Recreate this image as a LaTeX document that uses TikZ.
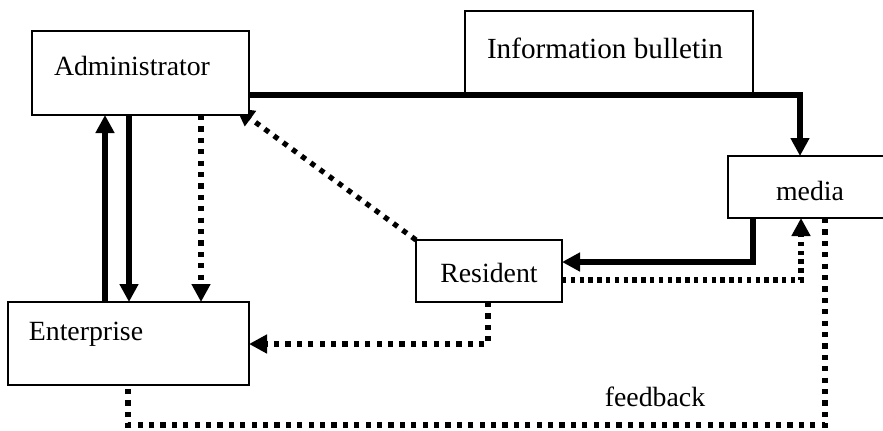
\documentclass[tikz,border=0pt]{standalone}
\usepackage{fontspec}
\setmainfont{Liberation Serif}
\usetikzlibrary{arrows.meta}
\pgfdeclarelayer{background}
\pgfsetlayers{background,main}
\tikzset{
  box/.style={draw, line width=0.85pt, fill=white, inner sep=0pt, outer sep=0pt},
  lbl/.style={inner sep=0pt, font=\fontsize{13.9}{16}\selectfont},
  thickflow/.style={line width=2.7pt, line join=miter},
  dotflow/.style={line width=2.6pt, line cap=butt, dash pattern=on 2.6pt off 3.1pt},
  tip/.style={-{Triangle[length=9pt,width=9pt]}}
}
\begin{document}
\begin{tikzpicture}[x=0.5pt, y=-0.5pt]
\useasboundingbox (0,0) rectangle (883,430);
\clip (0,0) rectangle (883,430);

% boxes
\node[box, minimum width=108.5pt, minimum height=42pt] (admin) at (140.5,73) {};
\node[box, minimum width=144pt, minimum height=41pt] (info) at (609,52) {};
\node[box, minimum width=86pt, minimum height=31pt] (media) at (814,187) {};
\node[box, minimum width=73pt, minimum height=31pt] (resident) at (489,271) {};
\node[box, minimum width=120.5pt, minimum height=41.5pt] (enterprise) at (128.5,343.5) {};

% labels
\node[lbl] (admintext) at (132,66) {Administrator};
\node[lbl, font=\fontsize{14.6}{17}\selectfont] (infotext) at (605,48) {Information bulletin};
\node[lbl] (mediatext) at (810,191) {media};
\node[lbl] (residenttext) at (489,273) {Resident};
\node[lbl] (enterprisetext) at (86,334) {Enterprise};
\node[lbl] (feedbacktext) at (655,397) {feedback};

% helper positions
\coordinate (xup) at (105,0);
\coordinate (xdown) at (129,0);
\coordinate (xdot) at (201,0);
\coordinate (ybus) at (0,95);
\coordinate (xbus) at (800,0);
\coordinate (xm1) at (753,0);
\coordinate (ym1) at (0,262);
\coordinate (ym2) at (0,280);
\coordinate (xm2) at (801,0);
\coordinate (xm3) at (825,0);
\coordinate (yfb) at (0,425);
\coordinate (xfb) at (128,0);
\coordinate (xr) at (488,0);
\coordinate (yr) at (0,344);
\coordinate (diagend) at (236,108);

\begin{pgfonlayer}{background}
% administrator and enterprise
\draw[thickflow, tip] (enterprise.north -| xup) -- (admin.south -| xup);
\draw[thickflow, tip] (admin.south -| xdown) -- (enterprise.north -| xdown);
\draw[dotflow, tip] (admin.south -| xdot) -- (enterprise.north -| xdot);

% administrator to media through the bulletin
\draw[thickflow, tip] (admin.east |- ybus) -- (xbus |- ybus) -- (media.north -| xbus);

% media to resident
\draw[thickflow, tip] (media.south -| xm1) -- (xm1 |- ym1) -- (resident.east |- ym1);

% resident to media
\draw[dotflow, dash pattern=on 2.2pt off 2.2pt, tip] (resident.east |- ym2) -- (xm2 |- ym2) -- (media.south -| xm2);

% resident to administrator
\draw[dotflow, tip] (resident.north west) -- (diagend);

% resident to enterprise
\draw[dotflow, tip] (resident.south -| xr) -- (xr |- yr) -- (enterprise.east |- yr);

% feedback loop from media to enterprise
\draw[dotflow] (media.south -| xm3) -- (xm3 |- yfb) -- (xfb |- yfb) -- (enterprise.south -| xfb);
\end{pgfonlayer}
\end{tikzpicture}
\end{document}
